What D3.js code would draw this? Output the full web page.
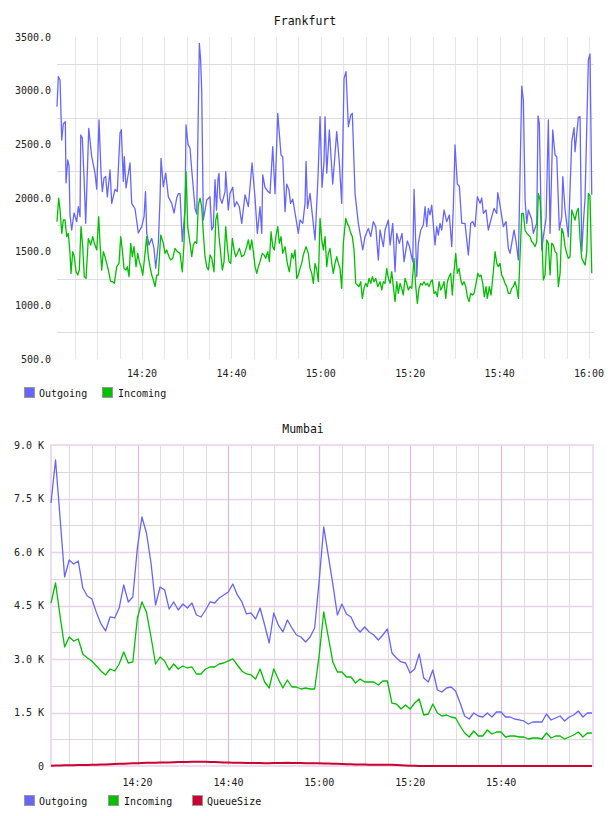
<!DOCTYPE html>
<html><head><meta charset="utf-8">
<script src="https://cdn.jsdelivr.net/npm/d3@7"></script>
<style>body{margin:0;background:#fff}svg{display:block}</style>
</head><body>
<svg id="c" width="608" height="816"></svg>
<script>
// ---------------- DATA ----------------
const seriesNames = ["Outgoing", "Incoming", "QueueSize"];
const seriesColors = ["#6666ff", "#00c000", "#cc0033"];

// Frankfurt: [minutes after 14:00, value]
const frankfurtOutgoing = [[0.98,2851],[1.28,3130],[1.66,3099],[2.04,2540],[2.39,2690],[2.84,2711],[3.00,2140],[3.38,2354],[3.67,2300],[3.89,1842],[4.27,1702],[4.79,1860],[5.39,1780],[5.75,1920],[6.13,1826],[6.29,2587],[6.64,2560],[7.02,2200],[7.40,1764],[8.08,2649],[8.75,2385],[9.48,2232],[9.87,2083],[10.38,2727],[10.83,2232],[11.12,2060],[11.50,2186],[11.88,2200],[12.24,2010],[12.84,2261],[13.22,1950],[13.96,2080],[14.47,2060],[15.08,2605],[15.37,2636],[15.82,2155],[16.04,2385],[16.42,2093],[17.31,2326],[17.69,1950],[18.43,1900],[19.17,1674],[19.93,1733],[20.45,1826],[20.78,2060],[21.05,1674],[21.56,1562],[22.17,1624],[22.68,1531],[23.06,1345],[23.65,1578],[24.03,1998],[24.25,2370],[24.76,2106],[25.30,2232],[25.88,2010],[26.64,1950],[27.16,1860],[27.76,2000],[28.12,2040],[28.50,2040],[29.01,1593],[29.62,1900],[29.84,2680],[30.29,2500],[30.74,2463],[31.12,2261],[31.86,1900],[32.24,1850],[32.82,3441],[33.09,3300],[33.35,2996],[33.71,1795],[34.47,1981],[35.21,2012],[35.59,1702],[35.95,1733],[36.33,2170],[36.66,1888],[37.00,2180],[37.22,2230],[37.45,2000],[37.89,1950],[38.57,2059],[38.72,2245],[39.30,1888],[39.68,2043],[40.29,2100],[40.69,1919],[41.18,1965],[41.76,1919],[42.30,1764],[43.04,2030],[43.78,1919],[44.61,2326],[45.28,2000],[45.79,1671],[46.39,1919],[46.78,1671],[47.00,2215],[47.51,2100],[48.19,2060],[48.63,2043],[49.24,2478],[49.75,2040],[50.36,2789],[51.09,2400],[51.47,2385],[51.99,1873],[52.37,2130],[52.88,2074],[53.22,1950],[53.71,1990],[54.61,1764],[54.96,1671],[55.34,1795],[55.95,1764],[56.46,1950],[56.69,2340],[57.02,1903],[57.58,2043],[58.70,1609],[59.37,2200],[59.82,2758],[60.27,2100],[60.71,2340],[60.94,2758],[61.32,2232],[61.90,2634],[62.66,2130],[63.55,2618],[64.14,2326],[64.67,1950],[65.19,3115],[65.63,3177],[66.15,2664],[66.69,2773],[67.04,2789],[67.65,2040],[68.39,1764],[69.37,1516],[69.88,1640],[70.62,1717],[71.16,1640],[71.74,1780],[72.28,1733],[72.86,1422],[73.24,1702],[73.98,1547],[74.36,1702],[75.10,1795],[75.48,1562],[76.08,1764],[76.60,1313],[76.98,1671],[77.56,1578],[78.16,1671],[78.61,1406],[79.35,1600],[79.79,1550],[80.56,1406],[80.85,2080],[81.45,1267],[81.81,1578],[82.35,1702],[82.93,1748],[83.31,1919],[83.69,1733],[84.04,1903],[84.42,1842],[84.80,1934],[85.54,1562],[85.92,1733],[86.28,1655],[86.66,1764],[87.04,1702],[87.56,1888],[88.16,1780],[88.74,1842],[89.28,1547],[89.64,1919],[90.01,2494],[90.53,2130],[90.98,2110],[91.52,1764],[92.25,1764],[92.99,1469],[93.53,1764],[93.98,1780],[94.49,1733],[95.01,2012],[95.61,1950],[95.99,2000],[96.35,1857],[96.95,1888],[97.46,1702],[98.23,1826],[98.74,1903],[99.34,1857],[99.57,2050],[100.08,1934],[100.82,1733],[101.43,1780],[101.94,1531],[102.32,1484],[102.70,1578],[103.22,1702],[103.66,1593],[104.18,1422],[104.94,3043],[105.30,2912],[105.68,1981],[106.06,1764],[106.41,1888],[107.17,1800],[107.53,1671],[108.29,1764],[108.58,2764],[108.87,2696],[109.41,1516],[109.77,1640],[110.38,1810],[110.89,2727],[111.27,1671],[111.87,2634],[112.39,2400],[112.77,2385],[113.35,1702],[113.89,1826],[114.11,2200],[114.63,1888],[115.36,1640],[116.12,2525],[116.64,2656],[116.86,2432],[117.60,2751],[117.98,2758],[118.36,1500],[118.72,1764],[119.10,2000],[119.84,3286],[120.21,3342],[120.60,2030]];

const frankfurtIncoming = [[0.98,1779],[1.36,1998],[1.66,1889],[2.04,1671],[2.39,1795],[2.77,1795],[3.15,1640],[3.51,1671],[3.89,1484],[4.12,1298],[4.50,1500],[4.85,1453],[5.23,1313],[5.61,1282],[5.97,1329],[6.35,1733],[6.73,1547],[7.09,1267],[7.47,1251],[7.99,1624],[8.52,1562],[8.97,1640],[9.33,1578],[9.87,1516],[10.31,1826],[10.60,1578],[10.98,1329],[11.34,1500],[11.72,1453],[12.10,1391],[12.46,1329],[13.00,1220],[13.44,1220],[13.80,1205],[14.34,1360],[14.85,1391],[15.23,1640],[15.59,1516],[15.97,1344],[16.42,1329],[16.71,1360],[17.09,1267],[17.47,1578],[17.83,1453],[18.21,1547],[18.66,1360],[19.04,1484],[19.39,1407],[19.78,1360],[20.16,1282],[20.67,1484],[21.05,1640],[21.41,1453],[21.79,1360],[22.17,1282],[22.53,1236],[22.91,1174],[23.29,1282],[23.65,1282],[24.18,1655],[24.76,1578],[25.14,1484],[25.52,1516],[26.04,1453],[26.42,1422],[26.87,1438],[27.38,1531],[27.90,1500],[28.50,1484],[29.01,1313],[29.39,1578],[29.84,2245],[30.22,1733],[30.74,1578],[31.12,1453],[31.47,1562],[31.86,1593],[32.24,1578],[32.59,1934],[32.97,1998],[33.35,1920],[33.71,1671],[34.09,1453],[34.47,1360],[34.83,1329],[35.21,1469],[35.59,1438],[36.10,1313],[36.49,1795],[36.84,1857],[37.22,1640],[37.60,1484],[37.96,1329],[38.34,1407],[38.72,1733],[39.08,1547],[39.46,1407],[39.84,1391],[40.20,1624],[40.58,1516],[40.96,1453],[41.32,1484],[41.77,1531],[42.30,1453],[42.82,1470],[43.42,1547],[43.78,1609],[44.16,1516],[44.54,1609],[44.90,1500],[45.28,1360],[45.66,1298],[46.02,1360],[46.39,1407],[46.91,1484],[47.29,1470],[47.67,1438],[48.12,1500],[48.48,1407],[48.86,1686],[49.24,1547],[49.59,1516],[49.98,1655],[50.36,1733],[50.71,1578],[51.09,1640],[51.47,1484],[51.99,1547],[52.50,1391],[52.95,1313],[53.49,1484],[53.84,1438],[54.22,1516],[54.61,1251],[54.96,1282],[55.34,1344],[55.72,1391],[56.08,1469],[56.69,1547],[57.20,1484],[57.58,1344],[57.96,1298],[58.32,1205],[58.70,1391],[59.08,1329],[59.44,1220],[59.82,1810],[60.20,1609],[60.56,1516],[60.94,1640],[61.32,1360],[61.68,1484],[62.05,1531],[62.43,1391],[62.79,1298],[63.17,1391],[63.55,1453],[63.91,1391],[64.29,1344],[64.67,1158],[65.03,1578],[65.57,1810],[65.92,1764],[66.30,1733],[66.69,1671],[67.04,1640],[67.42,1516],[67.80,1205],[68.16,1189],[68.54,1174],[68.92,1220],[69.28,1065],[69.66,1158],[70.04,1205],[70.40,1174],[70.78,1251],[71.16,1205],[71.52,1267],[71.90,1220],[72.28,1251],[72.72,1174],[73.24,1220],[73.62,1143],[73.98,1220],[74.36,1205],[74.74,1344],[75.10,1251],[75.48,1205],[75.86,1313],[76.21,1174],[76.60,1034],[76.98,1220],[77.33,1111],[77.71,1205],[78.09,1158],[78.45,1096],[78.83,1251],[79.21,1205],[79.57,1143],[79.95,1174],[80.33,1158],[80.85,1437],[81.23,1174],[81.58,1018],[81.96,1158],[82.34,1205],[82.70,1189],[83.08,1220],[83.46,1189],[83.82,1205],[84.20,1174],[84.58,1220],[84.94,1236],[85.32,1111],[85.70,1127],[86.06,1080],[86.44,1220],[86.82,1143],[87.18,1174],[87.56,1220],[87.94,1065],[88.30,1220],[88.67,1267],[89.05,1298],[89.41,1096],[89.79,1313],[90.17,1484],[90.53,1298],[90.91,1344],[91.29,1236],[91.65,1189],[92.03,1220],[92.41,1174],[92.77,1080],[93.15,1034],[93.53,1111],[93.89,1096],[94.27,1111],[94.72,1205],[95.10,1298],[95.45,1267],[95.83,1282],[96.21,1205],[96.57,1080],[96.95,1174],[97.24,1065],[97.69,1174],[98.07,1096],[98.59,1313],[98.97,1500],[99.35,1391],[99.70,1360],[100.08,1391],[100.46,1282],[100.82,1251],[101.20,1205],[101.58,1174],[101.94,1111],[102.32,1111],[102.70,1158],[103.06,1174],[103.44,1220],[103.82,1158],[104.18,1065],[104.40,1298],[104.94,1857],[105.30,1857],[105.68,1702],[106.06,1671],[106.41,1655],[106.79,1640],[107.17,1593],[107.53,1578],[107.91,1547],[108.29,1593],[108.65,2043],[109.03,1981],[109.41,1671],[109.77,1236],[110.15,1282],[110.53,1609],[110.89,1578],[111.27,1282],[111.65,1578],[112.01,1562],[112.39,1500],[112.77,1484],[113.13,1174],[113.51,1298],[113.89,1717],[114.25,1671],[114.63,1547],[115.01,1484],[115.36,1438],[115.74,1453],[116.12,1888],[116.48,1842],[116.86,1795],[117.24,1873],[117.60,1903],[117.98,1625],[118.36,1438],[118.72,1407],[119.10,1375],[119.48,1500],[119.84,2043],[120.21,2020],[120.60,1298]];

const frankfurtYLabels = [500, 1000, 1500, 2000, 2500, 3000, 3500];
const frankfurtYGrid = [750, 1250, 1750, 2250, 2750, 3250];
const frankfurtXLabels = ["14:20", "14:40", "15:00", "15:20", "15:40", "16:00"];

// Mumbai: one sample per minute, first at 14:00:58
const mumbaiStart = "14:00:58";
const mumbaiOutgoing = [7375,8580,6950,5300,5776,5664,5748,4990,4767,4683,
4300,3982,3786,4178,4150,4430,5075,4599,4739,6113,
6982,6533,5692,4514,5019,4935,4402,4599,4374,4542,
4430,4570,4234,4178,4374,4599,4570,4711,4795,4879,
5103,4795,4599,4262,4290,4122,4430,3954,3449,4290,
3954,3758,4094,3870,3673,3617,3477,3617,3870,5200,
6702,5900,5100,4234,4542,4262,4178,3898,3758,3898,
3758,3673,3533,3673,3842,3169,3029,2917,2888,2608,
2720,3141,2468,2355,2692,2131,2075,2187,2215,2103,
1766,1402,1318,1486,1402,1374,1486,1374,1514,1514,
1374,1374,1318,1290,1262,1178,1234,1234,1234,1458,
1290,1346,1402,1262,1374,1430,1542,1374,1486,1486];
const mumbaiIncoming = [4570,5131,4200,3337,3617,3505,3561,3141,3029,2945,
2804,2664,2552,2720,2664,2860,3197,2888,2917,4150,
4599,4318,3617,2860,3056,2945,2692,2860,2720,2804,
2748,2776,2580,2580,2720,2776,2776,2860,2888,2945,
3001,2832,2664,2580,2552,2440,2720,2355,2187,2720,
2440,2187,2411,2215,2215,2159,2187,2159,2159,3112,
4318,3617,2917,2636,2636,2495,2495,2327,2440,2355,
2355,2355,2271,2383,2383,1766,1738,1598,1710,1598,
1766,1878,1430,1458,1738,1486,1402,1430,1374,1346,
1122,925,813,981,841,841,1009,897,953,953,
813,841,841,813,813,757,785,785,757,925,
785,841,841,757,813,869,953,813,925,925];
const mumbaiQueueSize = [10,12,15,18,20,22,25,28,30,33,
36,40,45,50,55,60,65,70,75,80,
85,88,90,92,95,98,100,105,110,112,
115,118,120,120,118,115,110,105,100,95,
92,90,88,86,85,84,82,80,80,82,
84,86,88,86,84,82,80,80,78,75,
72,68,64,60,56,52,48,45,42,40,
38,36,35,35,34,32,28,22,15,8,
4,2,1,0,0,0,0,0,0,0,
0,0,0,0,0,0,0,0,0,0,
0,0,0,0,0,0,0,0,0,0,
0,0,0,0,0,0,0,0,0,0];
const mumbaiYLabels = [0, 1500, 3000, 4500, 6000, 7500, 9000];
const mumbaiYMinor = [750, 2250, 3750, 5250, 6750, 8250];
const mumbaiXLabels = ["14:20", "14:40", "15:00", "15:20", "15:40"];

// ---------------- DRAW ----------------
const svg = d3.select("#c");
const parseHM = d3.timeParse("%H:%M");
const parseHMS = d3.timeParse("%H:%M:%S");
const base = parseHM("14:00");
const atMin = m => new Date(base.getTime() + m * 60000);
const MONO = "'DejaVu Sans Mono', monospace";

function legend(g, items, xs, y) {
  items.forEach((it, i) => {
    g.append("rect").attr("x", xs[i][0] + 0.5).attr("y", y + 0.5)
      .attr("width", 10).attr("height", 10)
      .attr("fill", it.color).attr("stroke", "#999").attr("stroke-width", 1);
    g.append("text").attr("x", xs[i][1]).attr("y", y + 9.5)
      .attr("font-family", MONO).attr("font-size", 10).attr("fill", "#111")
      .text(it.name);
  });
}

// ---- Frankfurt ----
{
  const g = svg.append("g");
  const x = d3.scaleTime().domain([atMin(0.98), atMin(121.1)]).range([57, 594]);
  const y = d3.scaleLinear().domain([500, 3500]).range([359, 37]);

  g.append("text").attr("x", 305).attr("y", 25).attr("text-anchor", "middle")
    .attr("font-family", MONO).attr("font-size", 11.5).attr("fill", "#111").text("Frankfurt");

  const vTicks = d3.timeMinute.every(5).range(atMin(5), atMin(121));
  g.append("g").selectAll("line").data(vTicks).join("line")
    .attr("x1", d => Math.round(x(d)) + 0.5).attr("x2", d => Math.round(x(d)) + 0.5)
    .attr("y1", y(3500)).attr("y2", y(500))
    .attr("stroke", "#e6e6e6").attr("stroke-width", 1);
  g.append("g").selectAll("line").data(frankfurtYGrid).join("line")
    .attr("x1", x.range()[0]).attr("x2", x.range()[1])
    .attr("y1", d => Math.round(y(d)) + 0.5).attr("y2", d => Math.round(y(d)) + 0.5)
    .attr("stroke", "#dddddd").attr("stroke-width", 1);

  g.append("g").selectAll("text").data(frankfurtYLabels).join("text")
    .attr("x", 51).attr("y", d => y(d) + 3.5).attr("text-anchor", "end")
    .attr("font-family", MONO).attr("font-size", 10).attr("fill", "#222")
    .text(d => d3.format(".1f")(d));
  g.append("g").selectAll("text").data(frankfurtXLabels).join("text")
    .attr("x", d => x(parseHM(d))).attr("y", 377).attr("text-anchor", "middle")
    .attr("font-family", MONO).attr("font-size", 10).attr("fill", "#222")
    .text(d => d);

  const line = d3.line().x(d => x(atMin(d[0]))).y(d => y(d[1]));
  g.append("path").datum(frankfurtOutgoing).attr("d", line)
    .attr("fill", "none").attr("stroke", seriesColors[0]).attr("stroke-width", 1.3).attr("stroke-linejoin", "round");
  g.append("path").datum(frankfurtIncoming).attr("d", line)
    .attr("fill", "none").attr("stroke", seriesColors[1]).attr("stroke-width", 1.3).attr("stroke-linejoin", "round");

  legend(g, [{name: seriesNames[0], color: seriesColors[0]}, {name: seriesNames[1], color: seriesColors[1]}],
    [[24, 39], [102, 118]], 387);
}

// ---- Mumbai ----
{
  const g = svg.append("g");
  const t0 = parseHMS(mumbaiStart);
  const tAt = i => new Date(t0.getTime() + i * 60000);
  const x = d3.scaleTime().domain([t0, atMin(120.2)]).range([51, 593]);
  const y = d3.scaleLinear().domain([0, 9000]).range([766, 445]);

  g.append("text").attr("x", 303).attr("y", 433).attr("text-anchor", "middle")
    .attr("font-family", MONO).attr("font-size", 11.5).attr("fill", "#111").text("Mumbai");

  const all5 = d3.timeMinute.every(5).range(atMin(5), atMin(120));
  const minorV = all5.filter(d => d.getMinutes() % 20 !== 0);
  const majorV = mumbaiXLabels.map(parseHM);

  g.append("g").selectAll("line").data(minorV).join("line")
    .attr("x1", d => Math.round(x(d)) + 0.5).attr("x2", d => Math.round(x(d)) + 0.5)
    .attr("y1", y(9000)).attr("y2", y(0))
    .attr("stroke", "#e0dce0").attr("stroke-width", 1);
  g.append("g").selectAll("line").data(mumbaiYMinor).join("line")
    .attr("x1", x.range()[0]).attr("x2", x.range()[1])
    .attr("y1", d => Math.round(y(d)) + 0.5).attr("y2", d => Math.round(y(d)) + 0.5)
    .attr("stroke", "#dcd8dc").attr("stroke-width", 1);
  g.append("g").selectAll("line").data(mumbaiYLabels.slice(1, -1)).join("line")
    .attr("x1", x.range()[0]).attr("x2", x.range()[1])
    .attr("y1", d => Math.round(y(d)) + 0.5).attr("y2", d => Math.round(y(d)) + 0.5)
    .attr("stroke", "#e8d4e8").attr("stroke-width", 1.5);
  g.append("g").selectAll("line").data(majorV).join("line")
    .attr("x1", d => Math.round(x(d)) + 0.5).attr("x2", d => Math.round(x(d)) + 0.5)
    .attr("y1", y(9000)).attr("y2", y(0))
    .attr("stroke", "#d8c0d8").attr("stroke-width", 1.3);
  g.append("rect").attr("x", x.range()[0]).attr("y", y(9000))
    .attr("width", x.range()[1] - x.range()[0]).attr("height", y(0) - y(9000))
    .attr("fill", "none").attr("stroke", "#eedcee").attr("stroke-width", 2);

  g.append("g").selectAll("text").data(mumbaiYLabels).join("text")
    .attr("x", 44).attr("y", d => y(d) + 3.5).attr("text-anchor", "end")
    .attr("font-family", MONO).attr("font-size", 10).attr("fill", "#222")
    .text(d => d === 0 ? "0" : d3.format(".1f")(d / 1000) + " K");
  g.append("g").selectAll("text").data(mumbaiXLabels).join("text")
    .attr("x", d => x(parseHM(d))).attr("y", 786).attr("text-anchor", "middle")
    .attr("font-family", MONO).attr("font-size", 10).attr("fill", "#222")
    .text(d => d);

  const line = d3.line().x((d, i) => x(tAt(i))).y(d => y(d));
  [[mumbaiOutgoing, 0, 1.3], [mumbaiIncoming, 1, 1.3], [mumbaiQueueSize, 2, 2]].forEach(([arr, ci, w]) => {
    g.append("path").datum(arr).attr("d", line)
      .attr("fill", "none").attr("stroke", seriesColors[ci]).attr("stroke-width", w).attr("stroke-linejoin", "round");
  });

  legend(g, seriesNames.map((n, i) => ({name: n, color: seriesColors[i]})),
    [[24, 39], [108, 124], [192, 207]], 795);
}
</script>
</body></html>
